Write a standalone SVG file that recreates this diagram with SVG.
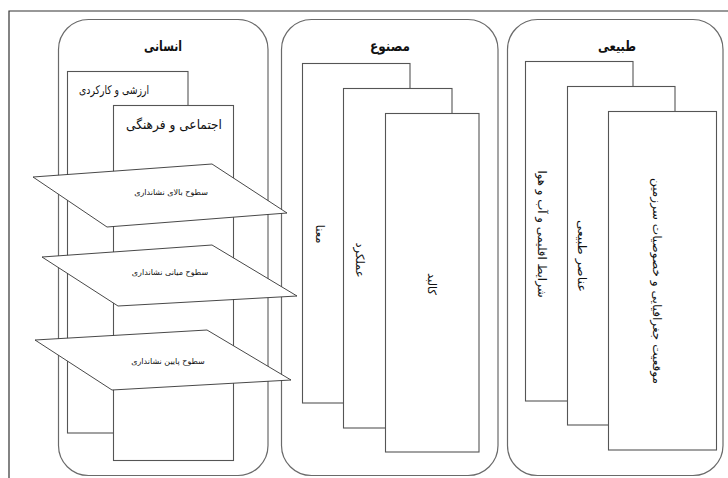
<svg xmlns="http://www.w3.org/2000/svg" width="728" height="478" viewBox="0 0 728 478">
<style>
.frame{fill:none;stroke:#333;stroke-width:1.2}
.panel{fill:#fff;stroke:#6a6a6a;stroke-width:1.2}
.card{fill:#fff;stroke:#555;stroke-width:1.1}
.plane{fill:#fff;stroke:#333;stroke-width:0.9}
text{font-family:"DejaVu Sans","Noto Sans",sans-serif;fill:#111;text-anchor:middle}
.title{font-size:14px;font-weight:bold}
.lbl{font-size:13px}
.small{font-size:8px}
.rot{font-size:11.5px;dominant-baseline:central}
</style>
<rect width="728" height="478" fill="#fff"/>
<path class="frame" d="M9,478 V11 H728"/>

<g id="panel-ensani">
  <rect class="panel" x="58.5" y="19.5" width="209.5" height="456" rx="30"/>
  <text class="title" x="163" y="51" textLength="38" lengthAdjust="spacingAndGlyphs">انسانی</text>
  <g id="card-arzeshi">
    <rect class="card" x="67.5" y="71.5" width="120.5" height="361.5"/>
    <text class="lbl" x="114" y="94" textLength="70" lengthAdjust="spacingAndGlyphs" style="font-size:12px">ارزشی و کارکردی</text>
  </g>
  <g id="card-ejtemai">
    <rect class="card" x="113.5" y="105.5" width="120" height="355"/>
    <text class="lbl" x="174" y="129" textLength="96" lengthAdjust="spacingAndGlyphs">اجتماعی و فرهنگی</text>
  </g>
</g>

<g id="panel-masnoo">
  <rect class="panel" x="281.5" y="19.5" width="216.5" height="456" rx="30"/>
  <text class="title" x="390" y="51" textLength="40" lengthAdjust="spacingAndGlyphs">مصنوع</text>
  <g id="card-mana">
    <rect class="card" x="302.5" y="63.5" width="107.5" height="339.5"/>
    <text class="rot" transform="translate(320,234) rotate(90)">معنا</text>
  </g>
  <g id="card-amalkard">
    <rect class="card" x="343.5" y="88.5" width="108.5" height="339.5"/>
    <text class="rot" transform="translate(360,260) rotate(90)">عملکرد</text>
  </g>
  <g id="card-kalbad">
    <rect class="card" x="385.5" y="113.5" width="93.5" height="338.5"/>
    <text class="rot" transform="translate(432,284) rotate(90)">کالبد</text>
  </g>
</g>

<g id="panel-tabiei">
  <rect class="panel" x="507.5" y="19.5" width="215.5" height="456" rx="30"/>
  <text class="title" x="617" y="51" textLength="38" lengthAdjust="spacingAndGlyphs">طبیعی</text>
  <g id="card-sharayet">
    <rect class="card" x="525.5" y="61.5" width="107.5" height="339.5"/>
    <text class="rot" transform="translate(542,234) rotate(90)" textLength="127" lengthAdjust="spacingAndGlyphs">شرایط اقلیمی و آب و هوا</text>
  </g>
  <g id="card-anasor">
    <rect class="card" x="567.5" y="86.5" width="107.5" height="338.5"/>
    <text class="rot" transform="translate(582,256) rotate(90)" textLength="72" lengthAdjust="spacingAndGlyphs">عناصر طبیعی</text>
  </g>
  <g id="card-moghiyat">
    <rect class="card" x="608.5" y="111.5" width="108" height="338.5"/>
    <text class="rot" transform="translate(657,281) rotate(90)" textLength="206" lengthAdjust="spacingAndGlyphs">موقعیت جغرافیایی و خصوصیات سرزمین</text>
  </g>
</g>

<g id="plane-bala">
  <polygon class="plane" points="33,177 212,164 287,213 107,227"/>
  <text class="small" x="171" y="195">سطوح بالای نشانداری</text>
</g>
<g id="plane-miani">
  <polygon class="plane" points="42,257 212,245 297,296 118,306"/>
  <text class="small" x="170" y="275">سطوح میانی نشانداری</text>
</g>
<g id="plane-paein">
  <polygon class="plane" points="35,340 207,330 291,380 112,390"/>
  <text class="small" x="168" y="364">سطوح پایین نشانداری</text>
</g>

<g id="connectors"></g>
</svg>
